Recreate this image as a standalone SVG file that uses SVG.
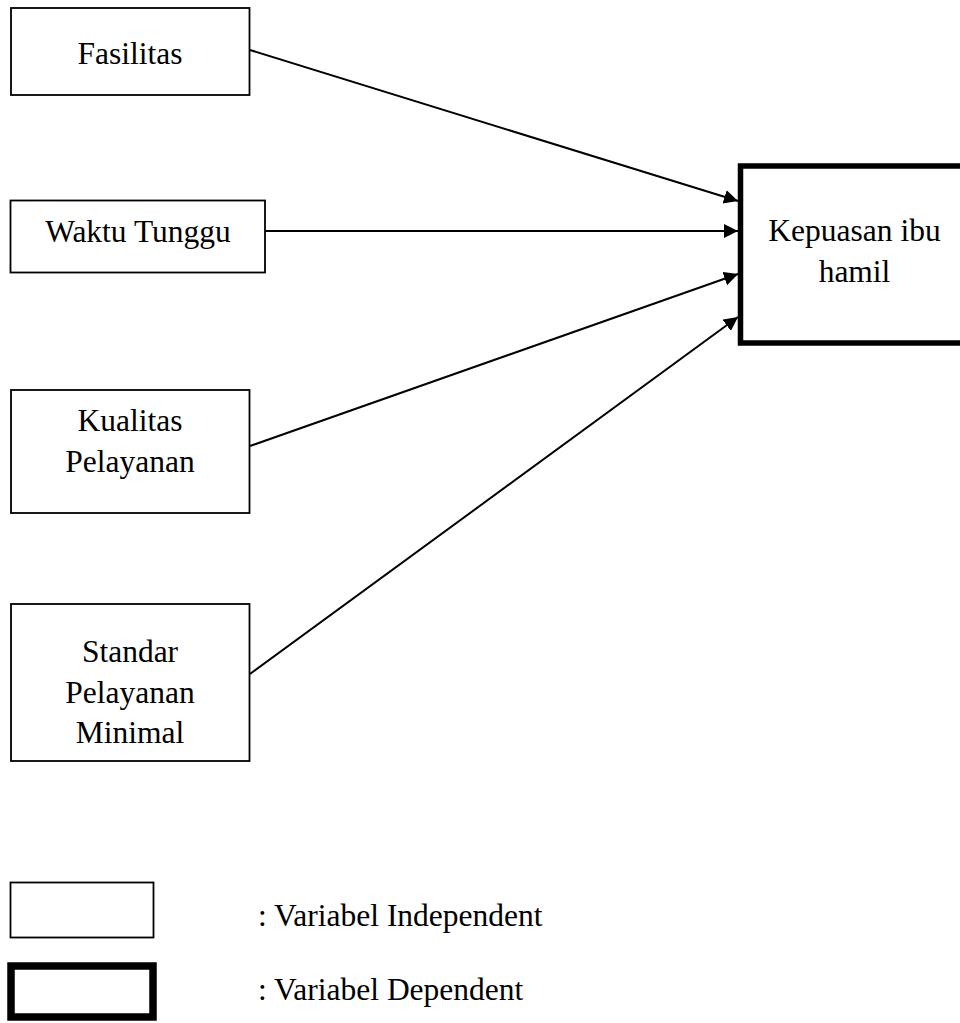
<svg xmlns="http://www.w3.org/2000/svg" width="960" height="1023" viewBox="0 0 960 1023">
<style>
.box{fill:#fff;stroke:#000;stroke-width:1.8}
.dep{fill:#fff;stroke:#000;stroke-width:5.5}
.lbl{font-family:"Liberation Serif","Times New Roman",serif;font-size:31.5px;fill:#000}
.c{text-anchor:middle}
.edge{stroke:#000;stroke-width:2;fill:none;marker-end:url(#ah)}
</style>
<defs>
<marker id="ah" markerUnits="userSpaceOnUse" markerWidth="16" markerHeight="16" refX="14" refY="7" orient="auto">
<polygon points="0,0 14,7 0,14" fill="#000"/>
</marker>
</defs>
<rect width="960" height="1023" fill="#fff"/>
<g id="connectors">
<line class="edge" x1="250" y1="50" x2="738" y2="201"/>
<line class="edge" x1="265" y1="231" x2="738" y2="231"/>
<line class="edge" x1="250" y1="446" x2="738" y2="274"/>
<line class="edge" x1="250" y1="674" x2="738" y2="317"/>
</g>
<g id="fasilitas">
<rect class="box" x="11" y="8" width="238.5" height="87"/>
<text class="lbl c" x="130" y="64">Fasilitas</text>
</g>
<g id="waktu-tunggu">
<rect class="box" x="10.5" y="200.5" width="254.5" height="72"/>
<text class="lbl c" x="138" y="242">Waktu Tunggu</text>
</g>
<g id="kualitas-pelayanan">
<rect class="box" x="11" y="390" width="238.5" height="123"/>
<text class="lbl c" x="130" y="431">Kualitas</text>
<text class="lbl c" x="130" y="472">Pelayanan</text>
</g>
<g id="standar-pelayanan-minimal">
<rect class="box" x="11" y="604" width="238.5" height="157"/>
<text class="lbl c" x="130" y="662">Standar</text>
<text class="lbl c" x="130" y="703">Pelayanan</text>
<text class="lbl c" x="130" y="743">Minimal</text>
</g>
<g id="kepuasan-ibu-hamil">
<rect class="dep" x="740.5" y="166" width="225" height="177"/>
<text class="lbl c" x="854.5" y="241">Kepuasan ibu</text>
<text class="lbl c" x="854.5" y="282">hamil</text>
</g>
<g id="legend-independent">
<rect class="box" x="10.5" y="882.5" width="143" height="55"/>
<text class="lbl" x="258" y="926">: Variabel Independent</text>
</g>
<g id="legend-dependent">
<rect fill="#fff" stroke="#000" stroke-width="7.5" x="11" y="966" width="142" height="51"/>
<text class="lbl" x="258" y="1000">: Variabel Dependent</text>
</g>
</svg>
